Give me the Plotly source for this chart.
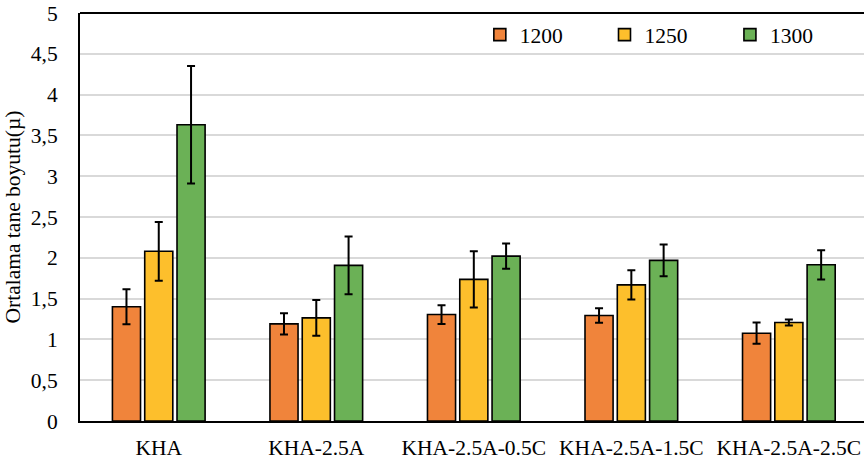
import plotly.graph_objects as go

# Sample groups and sintering temperatures
categories = ["KHA", "KHA-2.5A", "KHA-2.5A-0.5C", "KHA-2.5A-1.5C", "KHA-2.5A-2.5C"]
series_names = ["1200", "1250", "1300"]

# Mean grain size (µ) per temperature
values_1200 = [1.40, 1.19, 1.305, 1.293, 1.076]
values_1250 = [2.08, 1.264, 1.735, 1.668, 1.207]
values_1300 = [3.63, 1.907, 2.02, 1.968, 1.914]

# Standard deviations
err_1200 = [0.215, 0.13, 0.115, 0.09, 0.13]
err_1250 = [0.36, 0.22, 0.345, 0.18, 0.037]
err_1300 = [0.72, 0.355, 0.155, 0.195, 0.18]

y_ticks = [0, 0.5, 1, 1.5, 2, 2.5, 3, 3.5, 4, 4.5, 5]
y_tick_text = ["0", "0,5", "1", "1,5", "2", "2,5", "3", "3,5", "4", "4,5", "5"]

colors = ["#F0843B", "#FDBF2C", "#6BB156"]
FONT = "Liberation Serif, Times New Roman, serif"
FS = 21.5

# one single-entry legend per series so each can be placed on its own
legend_ids = ["legend", "legend2", "legend3"]
legend_x = [0.510, 0.669, 0.829]

fig = go.Figure()
for name, vals, errs, col, lid in zip(series_names,
                                      [values_1200, values_1250, values_1300],
                                      [err_1200, err_1250, err_1300],
                                      colors, legend_ids):
    fig.add_trace(go.Bar(
        name=name,
        x=categories,
        y=vals,
        legend=lid,
        marker=dict(color=col, line=dict(color="#000000", width=1.6)),
        error_y=dict(type="data", array=errs, visible=True,
                     color="#000000", thickness=2, width=4),
    ))

legend_common = dict(
    orientation="h",
    xanchor="left", yanchor="middle",
    bgcolor="rgba(0,0,0,0)",
    font=dict(family=FONT, size=FS),
    itemwidth=30,
)

fig.update_layout(
    width=864,
    height=461,
    margin=dict(l=80, r=0, t=13, b=40),
    paper_bgcolor="white",
    plot_bgcolor="white",
    barmode="group",
    bargap=0.385,
    bargroupgap=0.13,
    font=dict(family=FONT, size=FS, color="#000000"),
    showlegend=True,
    legend=dict(x=legend_x[0], y=0.947, **legend_common),
    legend2=dict(x=legend_x[1], y=0.947, **legend_common),
    legend3=dict(x=legend_x[2], y=0.947, **legend_common),
    xaxis=dict(
        type="category",
        range=[-0.5, 4.477],
        showline=True, linecolor="#000000", linewidth=2,
        mirror=False,
        ticks="", showgrid=False,
        tickangle=0,
        automargin=False,
        ticklabelstandoff=6,
        tickfont=dict(family=FONT, size=FS),
    ),
    yaxis=dict(
        range=[0, 5],
        tickvals=y_ticks,
        ticktext=y_tick_text,
        showgrid=True, gridcolor="#D9D9D9", gridwidth=1.5,
        showline=True, linecolor="#000000", linewidth=2,
        ticks="", ticklabelstandoff=16,
        zeroline=False,
        automargin=False,
        tickfont=dict(family=FONT, size=FS),
        title=dict(text="Ortalama tane boyutu(µ)",
                   font=dict(family=FONT, size=FS), standoff=4),
    ),
)

# Top border of the plot area
fig.add_shape(type="line", xref="paper", yref="paper",
              x0=0, x1=1, y0=1, y1=1,
              line=dict(color="#000000", width=2))

fig.write_html("out.html")
